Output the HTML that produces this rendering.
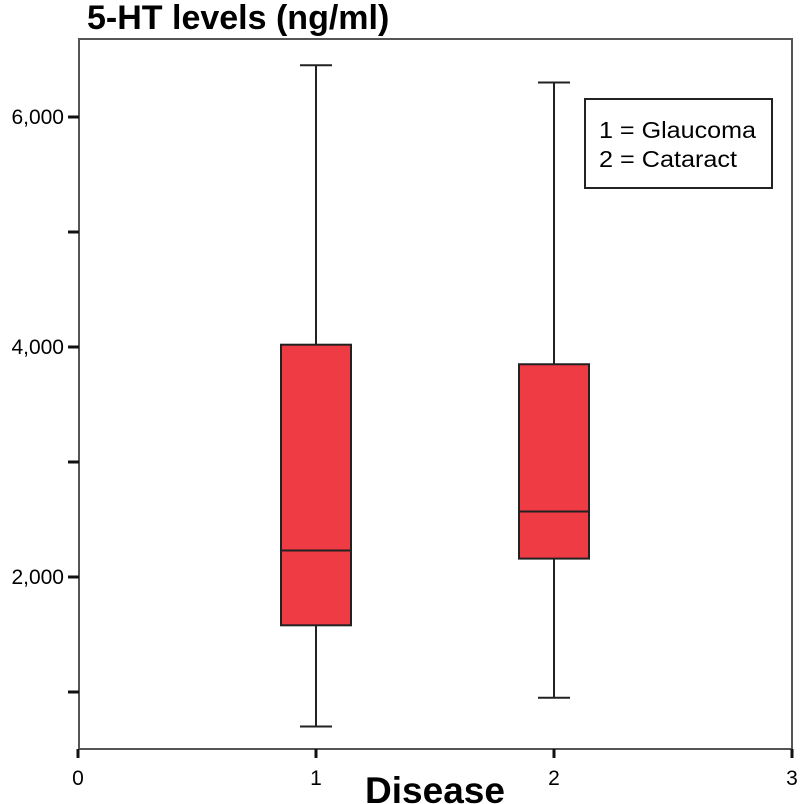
<!DOCTYPE html>
<html><head><meta charset="utf-8"><style>body{margin:0;background:#fff}svg{display:block}</style></head>
<body>
<svg width="800" height="804" font-family="Liberation Sans, Arial, sans-serif">
<text x="87" y="29" font-size="34" font-weight="bold">5-HT levels (ng/ml)</text>
<rect x="79" y="39" width="713" height="710" fill="none" stroke="#555" stroke-width="2"/>
<g id="axes"></g>
<g id="boxes"></g>
<g>
<rect x="585" y="99" width="187" height="89" fill="#fff" stroke="#222" stroke-width="2"/>
<text x="599" y="138" font-size="23" textLength="157" lengthAdjust="spacingAndGlyphs">1 = Glaucoma</text>
<text x="599" y="167" font-size="23" textLength="138" lengthAdjust="spacingAndGlyphs">2 = Cataract</text>
</g>
<text x="435" y="803" font-size="37" font-weight="bold" text-anchor="middle">Disease</text>
</svg>
<script>
const categories=[1,2];
const whiskerLow=[700,950];
const q1=[1580,2160];
const median=[2230,2570];
const q3=[4020,3850];
const whiskerHigh=[6450,6300];
const yTicks=[1000,2000,3000,4000,5000,6000];
const yTickLabels=["","2,000","","4,000","","6,000"];
const xTicks=[0,1,2,3];
const NS="http://www.w3.org/2000/svg";
function y(v){return 807-v*0.115;}
function x(v){return 78+v*238;}
function mk(t,a,p){const e=document.createElementNS(NS,t);for(const k in a)e.setAttribute(k,a[k]);p.appendChild(e);return e;}
const ax=document.getElementById('axes');
yTicks.forEach((v,i)=>{
 const l=mk('line',{x1:68,x2:79,y1:y(v),y2:y(v),stroke:'#111','stroke-width':3},ax);
 
 
 if(yTickLabels[i]){const t=mk('text',{x:64,y:y(v)+7,'font-size':21,'text-anchor':'end'},ax);t.textContent=yTickLabels[i];
 
 }
});
xTicks.forEach(v=>{
 const l=mk('line',{x1:x(v),x2:x(v),y1:749,y2:758,stroke:'#111','stroke-width':3},ax);
 
 
 const t=mk('text',{x:x(v),y:785,'font-size':21,'text-anchor':'middle'},ax);t.textContent=v;
 
 
});
const bx=document.getElementById('boxes');
categories.forEach((c,i)=>{
 const g=mk('g',{},bx);
 
 
 const cx=x(c),hw=35,cw=16,st={stroke:'#222','stroke-width':2};
 mk('line',Object.assign({x1:cx,x2:cx,y1:y(whiskerHigh[i]),y2:y(q3[i])},st),g);
 mk('line',Object.assign({x1:cx,x2:cx,y1:y(q1[i]),y2:y(whiskerLow[i])},st),g);
 mk('line',Object.assign({x1:cx-cw,x2:cx+cw,y1:y(whiskerHigh[i]),y2:y(whiskerHigh[i])},st),g);
 mk('line',Object.assign({x1:cx-cw,x2:cx+cw,y1:y(whiskerLow[i]),y2:y(whiskerLow[i])},st),g);
 mk('rect',Object.assign({x:cx-hw,width:2*hw,y:y(q3[i]),height:y(q1[i])-y(q3[i]),fill:'#ee3b44'},st),g);
 mk('line',Object.assign({x1:cx-hw,x2:cx+hw,y1:y(median[i]),y2:y(median[i])},st),g);
});
</script>
</body></html>
